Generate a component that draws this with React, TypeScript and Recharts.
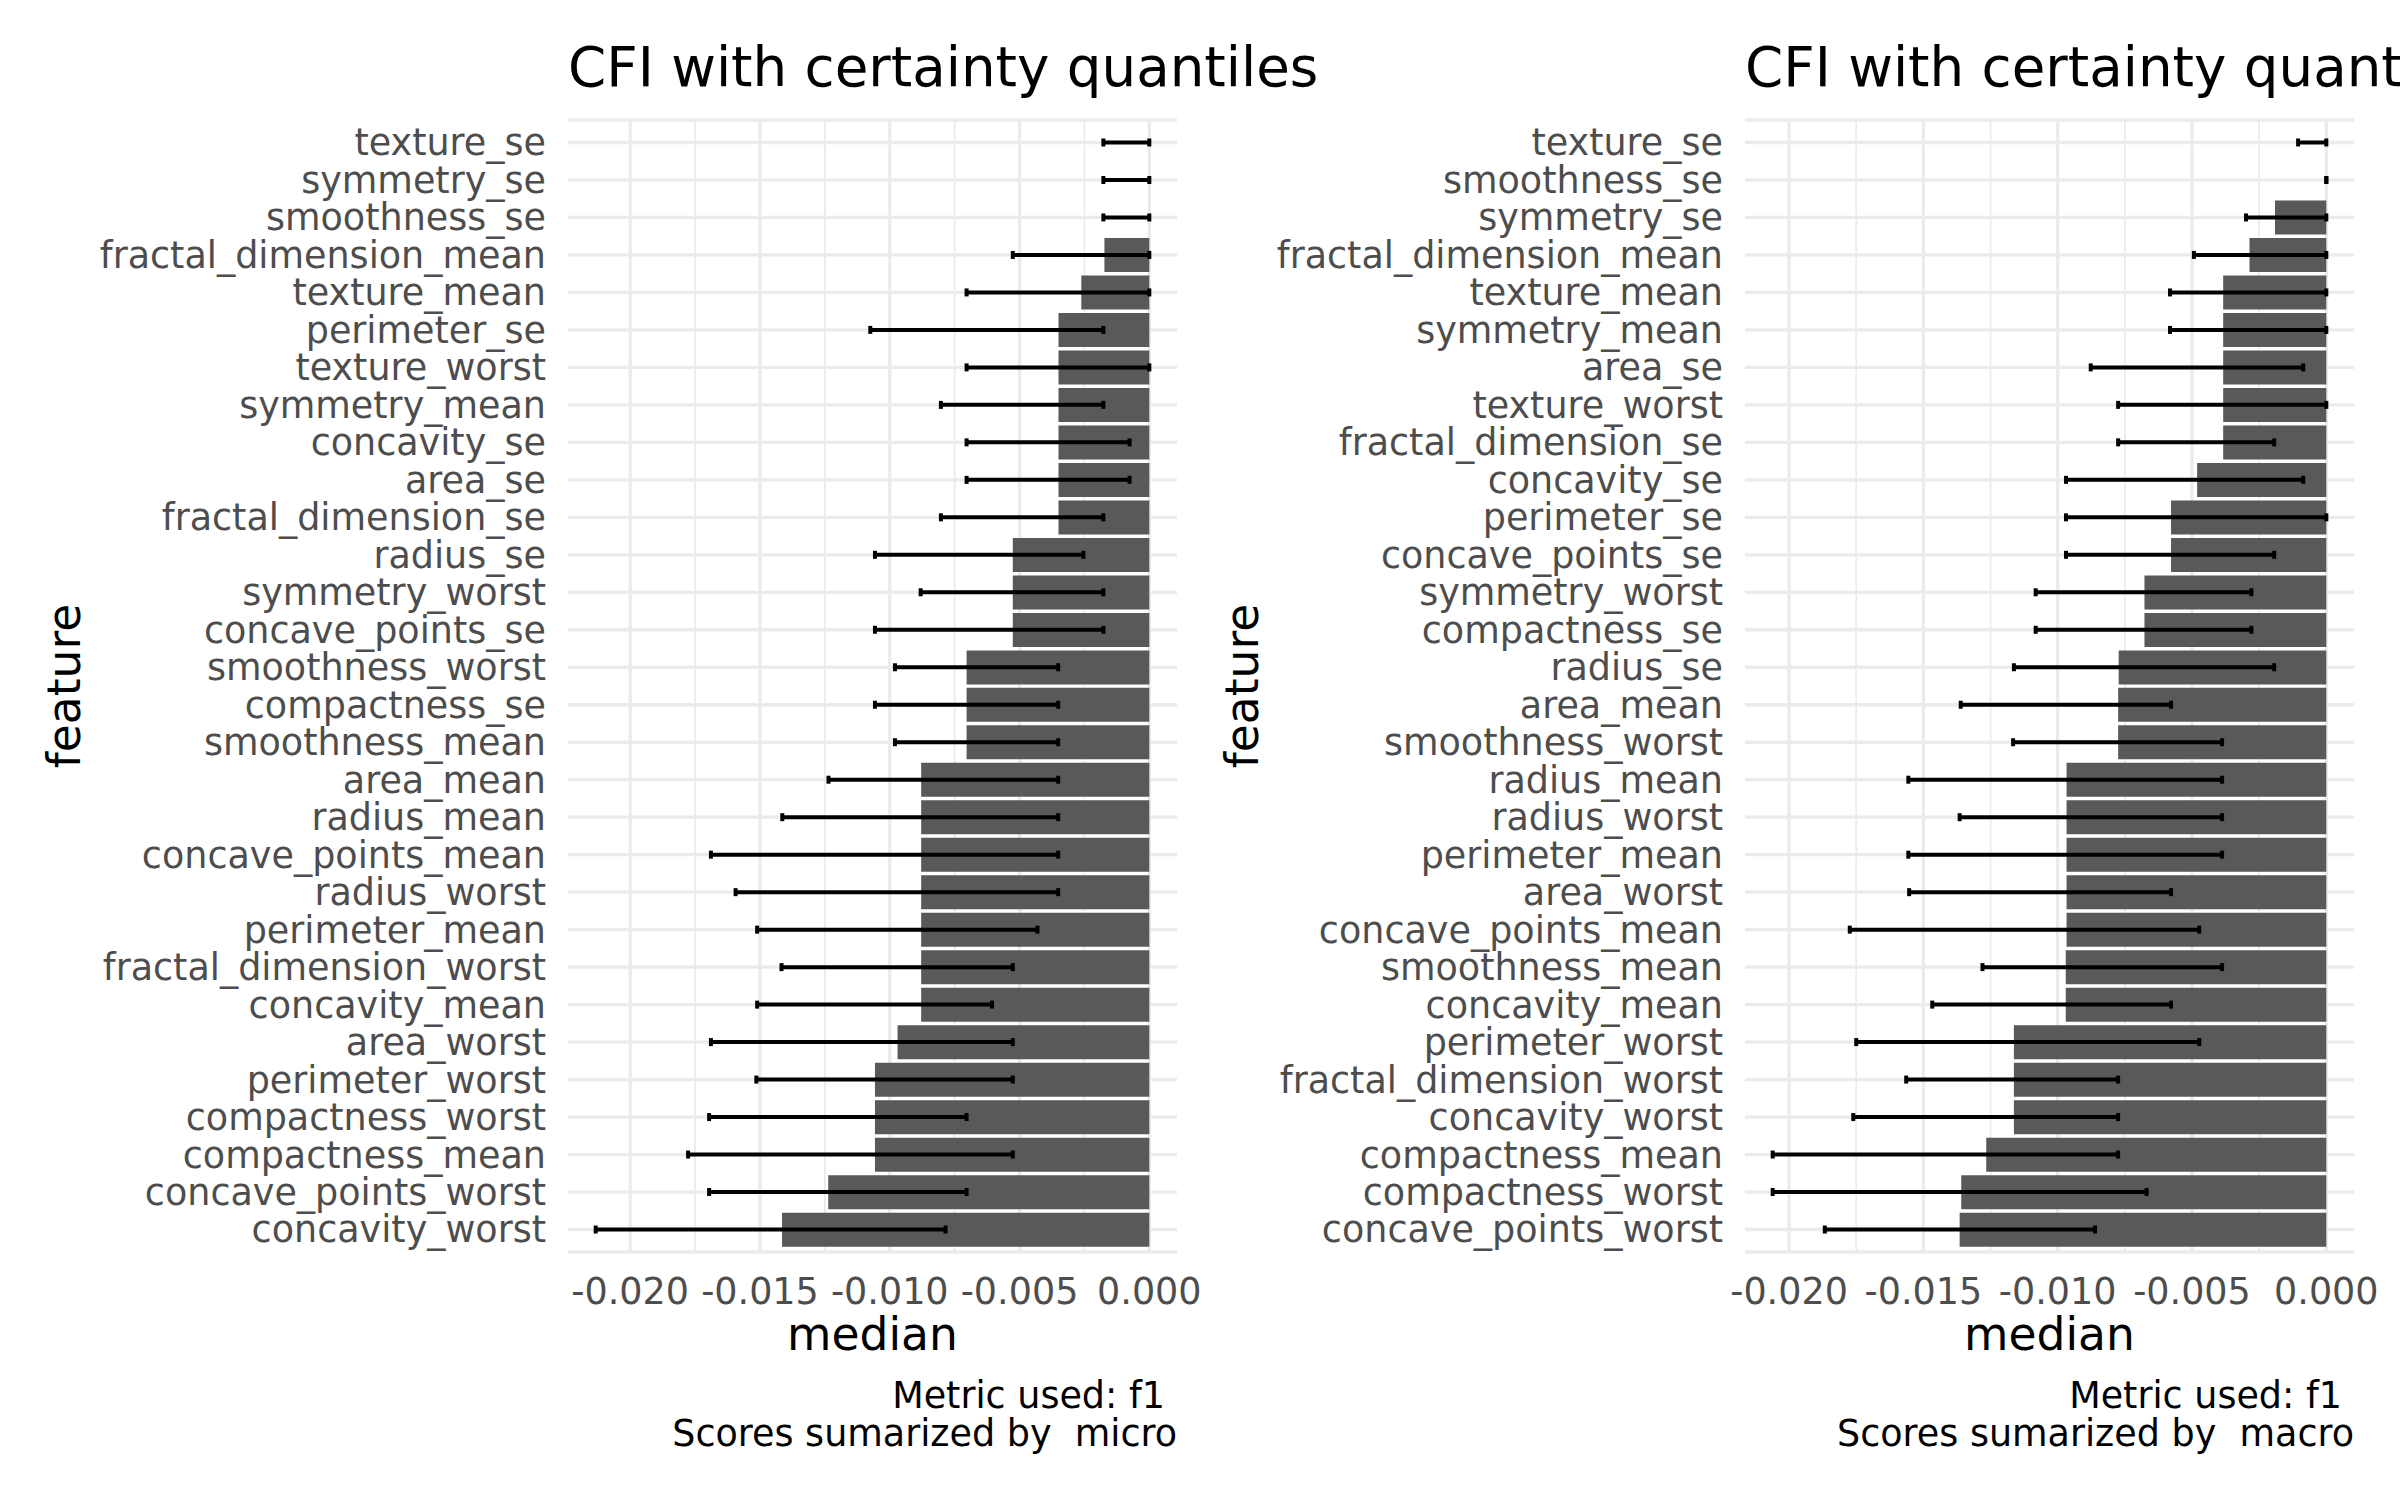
// CFI with certainty quantiles: two horizontal bar panels (micro / macro f1)
// ggplot-ish theme_minimal look: grey35 bars, black quantile error bars

import { ComposedChart, Bar, Scatter, XAxis, YAxis, CartesianGrid, ErrorBar } from 'recharts';

const FONT = 'DejaVu Sans';

// ---- micro panel (left) ----
const featuresMicro = [
  'texture_se', 'symmetry_se', 'smoothness_se', 'fractal_dimension_mean', 'texture_mean',
  'perimeter_se', 'texture_worst', 'symmetry_mean', 'concavity_se', 'area_se',
  'fractal_dimension_se', 'radius_se', 'symmetry_worst', 'concave_points_se', 'smoothness_worst',
  'compactness_se', 'smoothness_mean', 'area_mean', 'radius_mean', 'concave_points_mean',
  'radius_worst', 'perimeter_mean', 'fractal_dimension_worst', 'concavity_mean', 'area_worst',
  'perimeter_worst', 'compactness_worst', 'compactness_mean', 'concave_points_worst', 'concavity_worst',
];
const medianMicro = [
  0, 0, 0, -0.00173, -0.00262, -0.0035, -0.0035, -0.0035, -0.0035, -0.0035,
  -0.0035, -0.00526, -0.00526, -0.00526, -0.00704, -0.00704, -0.00704, -0.00879, -0.00879, -0.00879,
  -0.00879, -0.00879, -0.00879, -0.00879, -0.0097, -0.01057, -0.01057, -0.01057, -0.01237, -0.01415,
];
const lowMicro = [
  -0.00177, -0.00177, -0.00177, -0.00526, -0.00704, -0.01075, -0.00704, -0.00803, -0.00704, -0.00704,
  -0.00803, -0.01057, -0.00881, -0.01057, -0.0098, -0.01057, -0.0098, -0.01236, -0.01414, -0.01689,
  -0.01594, -0.01511, -0.01417, -0.01511, -0.01689, -0.01514, -0.01696, -0.01777, -0.01696, -0.02133,
];
const highMicro = [
  0, 0, 0, 0, 0, -0.00177, 0, -0.00177, -0.00076, -0.00076,
  -0.00177, -0.00254, -0.00177, -0.00177, -0.00351, -0.00351, -0.00351, -0.00351, -0.00351, -0.00351,
  -0.00351, -0.00431, -0.00526, -0.00606, -0.00526, -0.00526, -0.00704, -0.00526, -0.00704, -0.00785,
];

// ---- macro panel (right) ----
const featuresMacro = [
  'texture_se', 'smoothness_se', 'symmetry_se', 'fractal_dimension_mean', 'texture_mean',
  'symmetry_mean', 'area_se', 'texture_worst', 'fractal_dimension_se', 'concavity_se',
  'perimeter_se', 'concave_points_se', 'symmetry_worst', 'compactness_se', 'radius_se',
  'area_mean', 'smoothness_worst', 'radius_mean', 'radius_worst', 'perimeter_mean',
  'area_worst', 'concave_points_mean', 'smoothness_mean', 'concavity_mean', 'perimeter_worst',
  'fractal_dimension_worst', 'concavity_worst', 'compactness_mean', 'compactness_worst', 'concave_points_worst',
];
const medianMacro = [
  0, 0, -0.00191, -0.00286, -0.00384, -0.00384, -0.00384, -0.00384, -0.00384, -0.00481,
  -0.00578, -0.00578, -0.00677, -0.00677, -0.00773, -0.00775, -0.00775, -0.00967, -0.00967, -0.00967,
  -0.00967, -0.00967, -0.0097, -0.0097, -0.01163, -0.01163, -0.01163, -0.01266, -0.01359, -0.01365,
];
const lowMacro = [
  -0.00105, 0, -0.00299, -0.00493, -0.00582, -0.00582, -0.00877, -0.00775, -0.00775, -0.00969,
  -0.00969, -0.00969, -0.01082, -0.01082, -0.01163, -0.01361, -0.01166, -0.01556, -0.01365, -0.01556,
  -0.01553, -0.01774, -0.0128, -0.01467, -0.0175, -0.01564, -0.01761, -0.02061, -0.02061, -0.01867,
];
const highMacro = [
  0, 0, 0, 0, 0, 0, -0.00086, 0, -0.00194, -0.00086,
  0, -0.00194, -0.00279, -0.00279, -0.00194, -0.00578, -0.00388, -0.00388, -0.00388, -0.00388,
  -0.00578, -0.00473, -0.00388, -0.00578, -0.00473, -0.00775, -0.00775, -0.00775, -0.00669, -0.00861,
];

const majorTicks = [-0.02, -0.015, -0.01, -0.005, 0];
const minorTicks = [-0.0175, -0.0125, -0.0075, -0.0025];

// layout (px)
const Y_AXIS_W = 500;
const PANEL_W = 609;
const PANEL_TOP = 120;
const PANEL_H = 1132;
const X_AXIS_H = 60;
const RIGHT_PAD = 70;
const CHART_H = PANEL_TOP + PANEL_H + X_AXIS_H + 8;
const BAND = PANEL_H / 30.2;

interface PanelProps {
  features: string[];
  median: number[];
  low: number[];
  high: number[];
  panelLeft: number;
}

function CfiPanel({ features, median, low, high, panelLeft }: PanelProps) {
  const data = features.map((f, i) => ({
    feature: f,
    median: median[i],
    err: [median[i] - low[i], high[i] - median[i]],
  }));
  // ggplot-style 5% expansion of the continuous axis
  const lo = Math.min(...low);
  const hi = Math.max(...high, 0);
  const pad = (hi - lo) * 0.05;

  return (
    <div style={{ position: 'absolute', left: panelLeft - Y_AXIS_W, top: 0 }}>
      <ComposedChart
        width={Y_AXIS_W + PANEL_W + RIGHT_PAD}
        height={CHART_H}
        data={data}
        layout="vertical"
        margin={{ top: PANEL_TOP, right: RIGHT_PAD, bottom: 8, left: 0 }}
        barCategoryGap="5%"
      >
        <CartesianGrid horizontal={false} verticalValues={minorTicks} stroke="#EBEBEB" strokeWidth={1.7} />
        <CartesianGrid verticalValues={majorTicks} stroke="#EBEBEB" strokeWidth={3.3} />
        <XAxis
          type="number"
          domain={[lo - pad, hi + pad]}
          allowDataOverflow
          ticks={majorTicks}
          interval={0}
          tickFormatter={(v: number) => v.toFixed(3)}
          axisLine={false}
          tickLine={false}
          tickSize={0}
          tickMargin={26}
          height={X_AXIS_H}
          tick={{ fontSize: 36.5, fill: '#4D4D4D', fontFamily: FONT }}
        />
        <YAxis
          type="category"
          dataKey="feature"
          width={Y_AXIS_W}
          interval={0}
          axisLine={false}
          tickLine={false}
          tickSize={0}
          tickMargin={22}
          padding={{ top: BAND * 0.1, bottom: BAND * 0.1 }}
          tick={{ fontSize: 36.5, fill: '#4D4D4D', fontFamily: FONT }}
        />
        <Bar dataKey="median" fill="#595959" isAnimationActive={false} />
        {/* invisible points only carry the quantile error bars (also for zero medians) */}
        <Scatter dataKey="median" shape={() => <g />} isAnimationActive={false}>
          <ErrorBar dataKey="err" direction="x" width={4} strokeWidth={4} stroke="#000000" isAnimationActive={false} />
        </Scatter>
      </ComposedChart>
    </div>
  );
}

function Texts({ panelLeft, featureX, summary }: { panelLeft: number; featureX: number; summary: string }) {
  const right = panelLeft + PANEL_W;
  const midY = PANEL_TOP + PANEL_H / 2;
  return (
    <>
      <text x={panelLeft} y={86} fontSize={54.7} fill="#000">CFI with certainty quantiles</text>
      <text x={panelLeft + PANEL_W / 2} y={1350} fontSize={45.6} textAnchor="middle" fill="#000">median</text>
      <text
        x={featureX}
        y={midY}
        fontSize={45.6}
        textAnchor="middle"
        fill="#000"
        transform={`rotate(-90 ${featureX} ${midY})`}
      >
        feature
      </text>
      <text x={right - 12} y={1408} fontSize={36.5} textAnchor="end" fill="#000">Metric used: f1</text>
      <text x={right} y={1446} fontSize={36.5} textAnchor="end" fill="#000" style={{ whiteSpace: 'pre' }}>
        {`Scores sumarized by  ${summary}`}
      </text>
    </>
  );
}

export default function App() {
  return (
    <div
      style={{
        position: 'absolute',
        left: 0,
        top: 0,
        width: 2400,
        height: 1500,
        background: '#FFFFFF',
        fontFamily: FONT,
        overflow: 'hidden',
      }}
    >
      <CfiPanel features={featuresMicro} median={medianMicro} low={lowMicro} high={highMicro} panelLeft={568} />
      <CfiPanel features={featuresMacro} median={medianMacro} low={lowMacro} high={highMacro} panelLeft={1745} />
      <svg
        width={2400}
        height={1500}
        style={{ position: 'absolute', left: 0, top: 0, pointerEvents: 'none', fontFamily: FONT }}
      >
        <Texts panelLeft={568} featureX={80} summary="micro" />
        <Texts panelLeft={1745} featureX={1258} summary="macro" />
      </svg>
    </div>
  );
}
